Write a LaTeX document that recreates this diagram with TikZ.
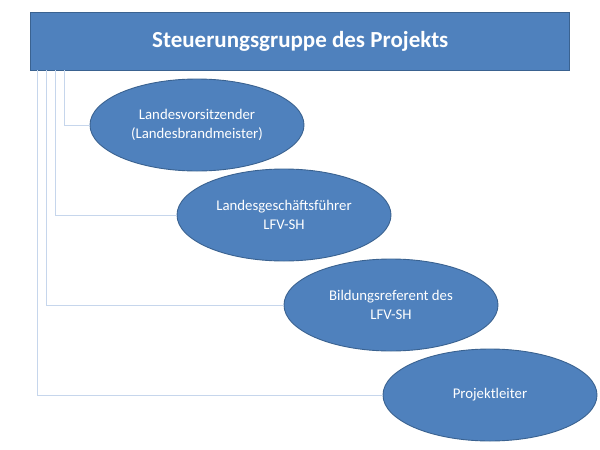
\documentclass[tikz,border=0pt]{standalone}
\usepackage{fontspec}
\setmainfont{Carlito}
\usepackage{xcolor}
\usetikzlibrary{shapes.geometric}

\definecolor{boxblue}{HTML}{4F81BD}
\definecolor{edgeblue}{HTML}{3A6290}
\definecolor{lineblue}{HTML}{C6D6EC}

\tikzset{
  groupbox/.style={rectangle, fill=boxblue, draw=edgeblue, line width=1.2pt,
    minimum width=539pt, minimum height=58pt, text=white,
    font=\fontsize{23}{27}\selectfont\bfseries},
  member/.style={ellipse, fill=boxblue, draw=edgeblue, line width=0.9pt,
    minimum width=214pt, minimum height=92pt, inner sep=0pt, text=white,
    align=center, font=\fontsize{14.8}{19}\selectfont},
  link/.style={draw=lineblue, line width=1pt}
}

\begin{document}
\begin{tikzpicture}[x=1pt, y=-1pt]
  \useasboundingbox (0,0) rectangle (600,450);

  % Start points on the lower edge of the box
  \coordinate (s1) at (64,70);
  \coordinate (s2) at (55,70);
  \coordinate (s3) at (46.5,70);
  \coordinate (s4) at (37.5,70);

  % Top box
  \node[groupbox] (group) at (300.3,41.5) {Steuerungsgruppe des Projekts};

  % Members, stepping down to the right
  \node[member] (chair) at (197,125) {Landesvorsitzender\\(Landesbrandmeister)};
  \node[member] (manager) at (284,215) {Landesgeschäftsführer\\LFV-SH};
  \node[member] (referent) at (391,305) {Bildungsreferent des\\LFV-SH};
  \node[member] (leader) at (490,395) {Projektleiter};

  % Lines from the box to each member
  \draw[link] (s1) |- (chair.west);
  \draw[link] (s2) |- (manager.west);
  \draw[link] (s3) |- (referent.west);
  \draw[link] (s4) |- (leader.west);
\end{tikzpicture}
\end{document}
